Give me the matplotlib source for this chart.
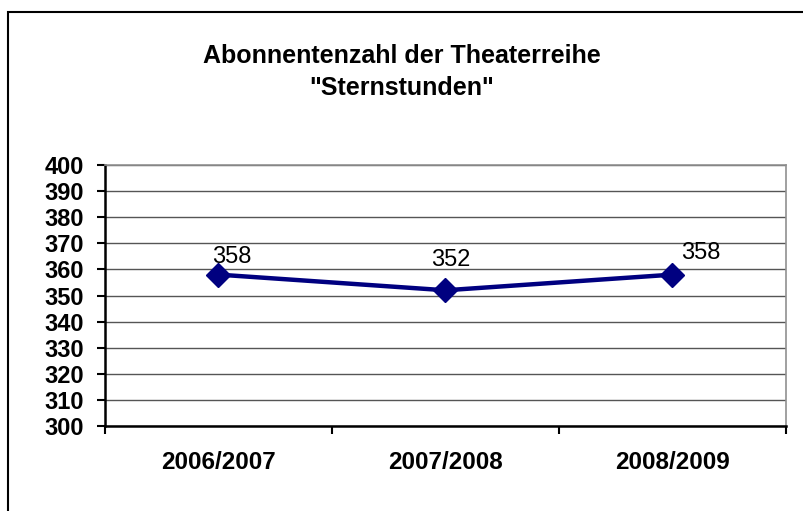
import matplotlib
matplotlib.use("Agg")
import matplotlib.pyplot as plt
from matplotlib.patches import Rectangle

categories = ["2006/2007", "2007/2008", "2008/2009"]
values = [358, 352, 358]
yticks = list(range(300, 401, 10))
title = 'Abonnentenzahl der Theaterreihe\n"Sternstunden"'

plt.rcParams['font.family'] = ['Liberation Sans', 'DejaVu Sans']

fig = plt.figure(figsize=(8.04, 5.11), dpi=100)
# outer chart border
fig.patches.append(Rectangle((8/804, -0.1), 1.2, 1 - 12/511 + 0.1, transform=fig.transFigure,
                             fill=False, edgecolor='black', linewidth=1.5, zorder=0))

ax = fig.add_axes([105/804, 1 - 426/511, (786 - 105)/804, (426 - 165)/511])
x = list(range(len(categories)))
ax.plot(x, values, color='#000080', linewidth=3.2, marker='D', markersize=12.5,
        markerfacecolor='#000080', markeredgecolor='#000080', zorder=3, clip_on=False)

offsets = [(13, 18), (5, 30), (28, 22)]
for xi, v, off in zip(x, values, offsets):
    ax.annotate(str(v), (xi, v), xytext=off, textcoords='offset pixels',
                ha='center', va='center', fontsize=17, color='black')

ax.set_xlim(-0.5, len(categories) - 0.5)
ax.set_ylim(300, 400)
ax.set_yticks(yticks)
ax.set_yticklabels([str(t) for t in yticks], fontweight='bold', fontsize=17)
ax.set_xticks(x)
ax.set_xticklabels(categories, fontweight='bold', fontsize=17.5)
ax.tick_params(axis='x', length=0, pad=18)
ax.set_xticks([i - 0.5 for i in range(len(categories) + 1)], minor=True)
ax.tick_params(axis='x', which='minor', length=6, width=1.5, direction='out')
ax.tick_params(axis='y', length=6, width=1.5, direction='out', pad=9)
ax.yaxis.grid(True, color='#555555', linewidth=1)
ax.set_axisbelow(True)
for s in ['left', 'bottom']:
    ax.spines[s].set_linewidth(1.8)
    ax.spines[s].set_color('black')
for s in ['top', 'right']:
    ax.spines[s].set_linewidth(1.2)
    ax.spines[s].set_color('#909090')

fig.text(402/804, 1 - 72/511, title, ha='center', va='center', fontsize=18,
         fontweight='bold', linespacing=1.45)

fig.savefig('out.png', dpi=100)
